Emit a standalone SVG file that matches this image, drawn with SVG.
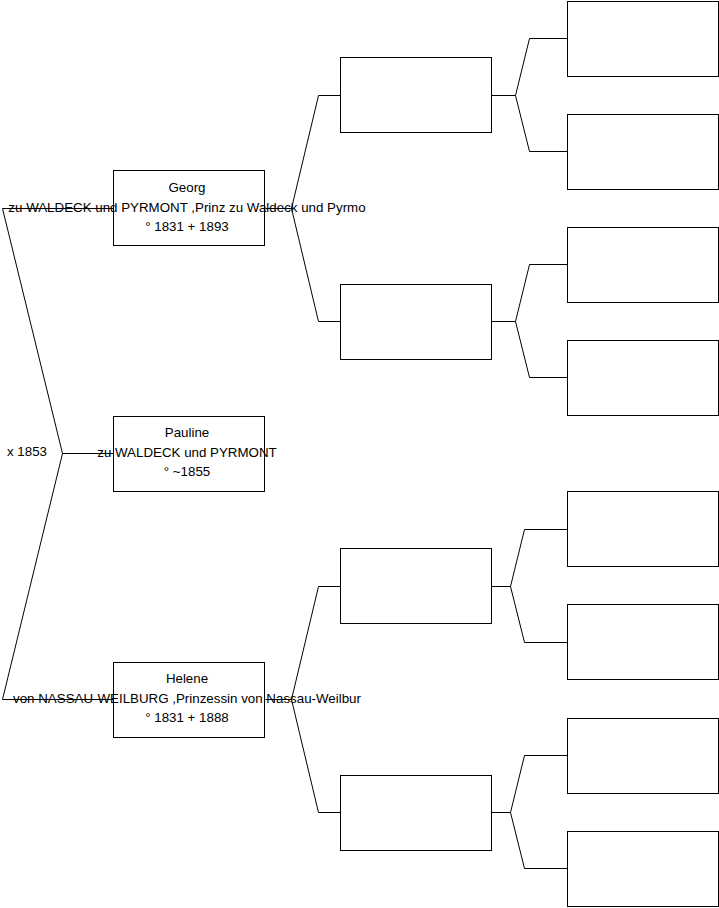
<svg xmlns="http://www.w3.org/2000/svg" width="719" height="908" viewBox="0 0 719 908">
<style>
.box{fill:#fff;stroke:#000;stroke-width:1}
.ln{fill:none;stroke:#000;stroke-width:1}
text{font-family:"Liberation Sans",Arial,sans-serif;font-size:13.33px;fill:#000}
.c{text-anchor:middle}
</style>
<rect width="719" height="908" fill="#fff"/>
<g id="connectors">
<polyline class="ln" points="113.5,208.5 2.5,208.5 62.5,453.5"/>
<polyline class="ln" points="113.5,453.5 62.5,453.5"/>
<polyline class="ln" points="113.5,699.5 2.5,699.5 62.5,453.5"/>
<polyline class="ln" points="340.5,95.5 318.5,95.5 291.5,208.5 265.5,208.5"/>
<polyline class="ln" points="340.5,321.5 318.5,321.5 291.5,208.5"/>
<polyline class="ln" points="340.5,586.5 318.5,586.5 291.5,699.5 265.5,699.5"/>
<polyline class="ln" points="340.5,812.5 318.5,812.5 291.5,699.5"/>
<polyline class="ln" points="567.5,38.5 529.5,38.5 515.5,95.5 491.5,95.5"/>
<polyline class="ln" points="567.5,151.5 529.5,151.5 515.5,95.5"/>
<polyline class="ln" points="567.5,264.5 529.5,264.5 515.5,321.5 491.5,321.5"/>
<polyline class="ln" points="567.5,377.5 529.5,377.5 515.5,321.5"/>
<polyline class="ln" points="567.5,529.5 524.5,529.5 510.5,586.5 491.5,586.5"/>
<polyline class="ln" points="567.5,642.5 524.5,642.5 510.5,586.5"/>
<polyline class="ln" points="567.5,755.5 524.5,755.5 510.5,812.5 491.5,812.5"/>
<polyline class="ln" points="567.5,868.5 524.5,868.5 510.5,812.5"/>
</g>
<g id="georg"><rect class="box" x="113.5" y="170.5" width="151" height="75"/></g>
<g id="pauline"><rect class="box" x="113.5" y="416.5" width="151" height="75"/></g>
<g id="helene"><rect class="box" x="113.5" y="662.5" width="151" height="75"/></g>
<g id="g2a"><rect class="box" x="340.5" y="57.5" width="151" height="75"/></g>
<g id="g2b"><rect class="box" x="340.5" y="284.5" width="151" height="75"/></g>
<g id="g2c"><rect class="box" x="340.5" y="548.5" width="151" height="75"/></g>
<g id="g2d"><rect class="box" x="340.5" y="775.5" width="151" height="75"/></g>
<g id="g3a"><rect class="box" x="567.5" y="1.5" width="151" height="75"/></g>
<g id="g3b"><rect class="box" x="567.5" y="114.5" width="151" height="75"/></g>
<g id="g3c"><rect class="box" x="567.5" y="227.5" width="151" height="75"/></g>
<g id="g3d"><rect class="box" x="567.5" y="340.5" width="151" height="75"/></g>
<g id="g3e"><rect class="box" x="567.5" y="491.5" width="151" height="75"/></g>
<g id="g3f"><rect class="box" x="567.5" y="604.5" width="151" height="75"/></g>
<g id="g3g"><rect class="box" x="567.5" y="718.5" width="151" height="75"/></g>
<g id="g3h"><rect class="box" x="567.5" y="831.5" width="151" height="75"/></g>
<g id="labels">
<text class="c" x="187" y="192">Georg</text>
<text class="c" x="187" y="212">zu WALDECK und PYRMONT ,Prinz zu Waldeck und Pyrmo</text>
<text class="c" x="187" y="231">° 1831 + 1893</text>
<text class="c" x="187" y="437">Pauline</text>
<text class="c" x="187" y="457">zu WALDECK und PYRMONT</text>
<text class="c" x="187" y="476">° ~1855</text>
<text x="7" y="456">x 1853</text>
<text class="c" x="187" y="683">Helene</text>
<text class="c" x="187" y="703">von NASSAU-WEILBURG ,Prinzessin von Nassau-Weilbur</text>
<text class="c" x="187" y="722">° 1831 + 1888</text>
</g>
</svg>
